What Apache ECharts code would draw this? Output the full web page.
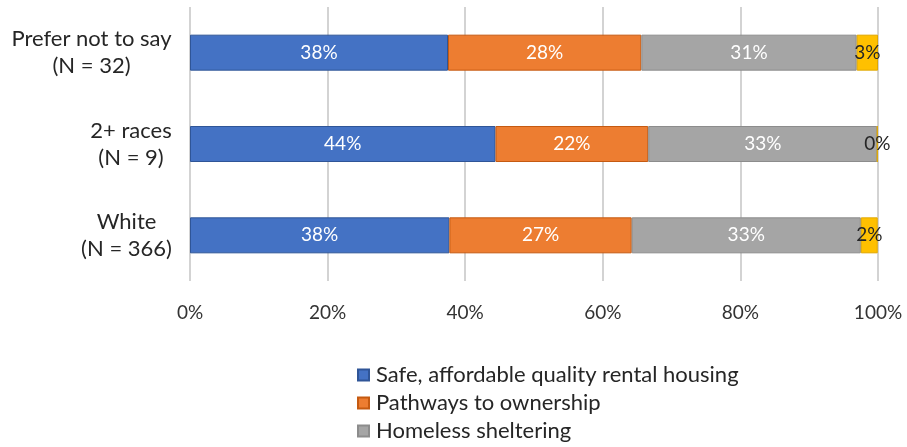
<!DOCTYPE html>
<html>
<head>
<meta charset="utf-8">
<script src="https://cdn.jsdelivr.net/npm/echarts@6/dist/echarts.min.js"></script>
<style>
html,body{margin:0;padding:0;background:#fff;}
#chart{width:907px;height:447px;}
</style>
</head>
<body>
<div id="chart"></div>
<script>
// Categories (bottom to top)
const categories = ['White\n(N = 366)', '2+ races\n(N = 9)', 'Prefer not to say\n(N = 32)'];
const seriesNames = ['Safe, affordable quality rental housing', 'Pathways to ownership', 'Homeless sheltering', 'Other'];
const safeRental = [37.7, 44.4, 37.5];
const pathways = [26.5, 22.2, 28.1];
const sheltering = [33.3, 33.3, 31.3];
const other = [2.46, 0, 3.1];
const xTicks = [0, 20, 40, 60, 80, 100];

const FONT = 'Lato';
const catSize = 22;
const ctx = document.createElement('canvas').getContext('2d');
ctx.font = catSize + 'px ' + FONT;
const rich = {};
categories.forEach((c, i) => {
  const w = Math.max(...c.split('\n').map(l => ctx.measureText(l).width));
  rich['c' + i] = {width: Math.ceil(w), align: 'center', fontSize: catSize, fontFamily: FONT, lineHeight: 27, color: '#262626'};
});

const colors = ['#4472C4', '#ED7D31', '#A5A5A5', '#FFC000'];
const borders = ['#2F5597', '#C55A11', '#8C8C8C', '#E0A800'];
const allData = [safeRental, pathways, sheltering, other];

const chart = echarts.init(document.getElementById('chart'), null, {renderer: 'canvas'});
chart.setOption({
  animation: false,
  grid: {left: 190, right: 29, top: 7, bottom: 166, containLabel: false},
  xAxis: {
    type: 'value', min: 0, max: 100, interval: 20,
    axisLine: {show: false}, axisTick: {show: false},
    splitLine: {show: true, lineStyle: {color: '#C4C4C4', width: 1.5}},
    axisLabel: {
      margin: 22, fontSize: 19, fontFamily: FONT, color: '#333',
      formatter: v => xTicks.includes(v) ? v + '%' : ''
    }
  },
  yAxis: {
    type: 'category', data: categories,
    axisLine: {show: false}, axisTick: {show: false},
    axisLabel: {
      margin: 18, align: 'right', rich: rich,
      formatter: (value, index) => value.split('\n').map(l => '{c' + index + '|' + l + '}').join('\n')
    }
  },
  legend: {
    orient: 'vertical', left: 352, top: 359,
    data: seriesNames.slice(0, 3),
    icon: 'rect', itemWidth: 11, itemHeight: 11, itemGap: 6,
    textStyle: {fontSize: 22, fontFamily: FONT, color: '#262626', padding: [0, 0, 0, 2]}
  },
  series: allData.map((d, i) => ({
    name: seriesNames[i], type: 'bar', stack: 'total', data: d,
    barWidth: 36,
    itemStyle: {color: colors[i], borderColor: borders[i], borderWidth: 1},
    label: {
      show: true, position: 'inside', fontSize: 19, fontFamily: FONT,
      color: i === 3 ? '#262626' : '#fff',
      formatter: p => Math.round(p.value) + '%'
    }
  }))
});
</script>
</body>
</html>
